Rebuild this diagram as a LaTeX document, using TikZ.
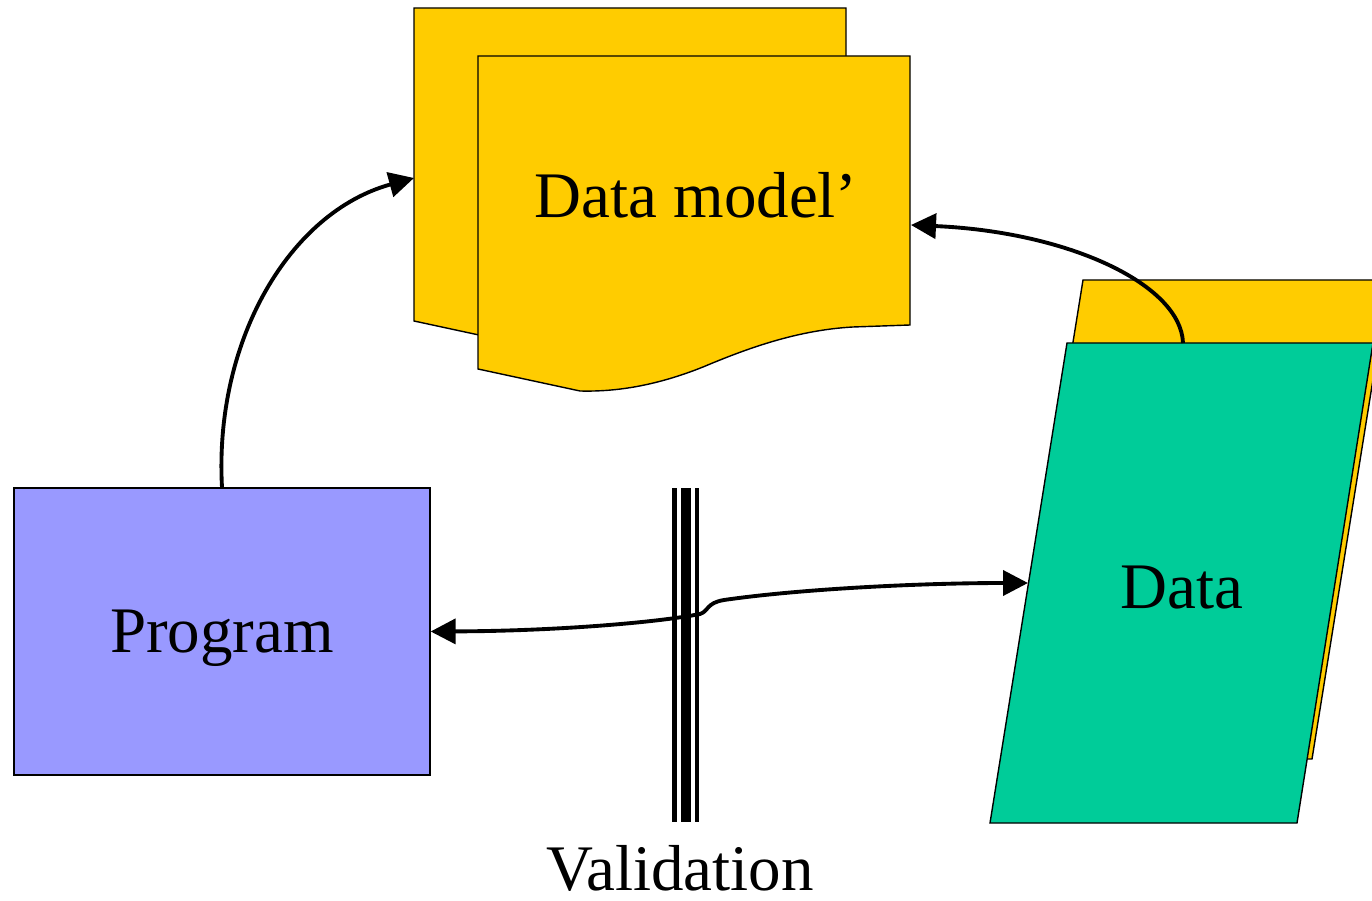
\documentclass[tikz,border=0pt]{standalone}
\usepackage{fontspec}
\setmainfont{Liberation Serif}
\usetikzlibrary{arrows.meta,positioning,calc}
\definecolor{docyellow}{HTML}{FFCC00}
\definecolor{datagreen}{HTML}{00CC99}
\definecolor{progblue}{HTML}{9999FF}

\begin{document}
\begin{tikzpicture}[
  x=0.02cm, y=-0.02cm,
  shape outline/.style={draw=black, line width=0.8pt, line join=miter},
  lbl/.style={font=\fontsize{37}{41}\selectfont, inner sep=0pt},
  progbox/.style={shape outline, fill=progblue, minimum width=8.32cm, minimum height=5.74cm, lbl, text depth=0pt},
  arr/.style={line width=2.2pt, -{Triangle[length=0.5cm, width=0.5cm]}},
  darr/.style={line width=2.2pt, {Triangle[length=0.5cm, width=0.5cm]}-{Triangle[length=0.5cm, width=0.5cm]}},
]
% Canvas in pixel units, origin at top left
\useasboundingbox (0,0) rectangle (1372,901);
\clip (0,0) rectangle (1372,901);

% Stacked documents (back copy offset by -64/-48)
\foreach \dx/\dy in {414/8, 478/56} {
  \begin{scope}[shift={(\dx,\dy)}]
    \filldraw[shape outline, fill=docyellow]
      (0,0) -- (432,0) -- (432,269) -- (375,271)
      .. controls (320,274) and (270,292) .. (225,311)
      .. controls (180,329) and (140,336) .. (102,335)
      -- (0,313) -- cycle;
  \end{scope}
}
\node[lbl] (model) at (696,195) {Data model’};

% Data sheets: back (yellow) and front (green) parallelograms
\filldraw[shape outline, fill=docyellow] (1083,280) -- (1389,280) -- (1312,759) -- (1006,759) -- cycle;
\filldraw[shape outline, fill=datagreen] (1067,343) -- (1373,343) -- (1297,823) -- (990,823) -- cycle;
\node[lbl] (data) at (1182,588) {Data};

% Program box
\node[progbox] (program) at (222,631.5) {Program};

% Validation barrier
\fill (672,488) rectangle (677,822);
\fill (681,488) rectangle (691,822);
\fill (695,488) rectangle (699,822);
\node[lbl] (valid) at (680,868) {Validation};

% Connector end points
\coordinate (modelleft) at (414,178);
\coordinate (modelright) at (911,225);
\coordinate (datatop) at (1183,343);
\coordinate (dataleft) at (1028,583);

% Connectors
\draw[arr] (program.north) .. controls (214,340) and (290,212) .. (modelleft);
\draw[arr] (datatop) .. controls (1181,285) and (1070,232) .. (modelright);
\draw[darr] (program.east) .. controls (560,631) and (660,622) .. (700,614)
  .. controls (709,611) and (706,603) .. (724,600)
  .. controls (800,589) and (920,583) .. (dataleft);
\end{tikzpicture}
\end{document}
